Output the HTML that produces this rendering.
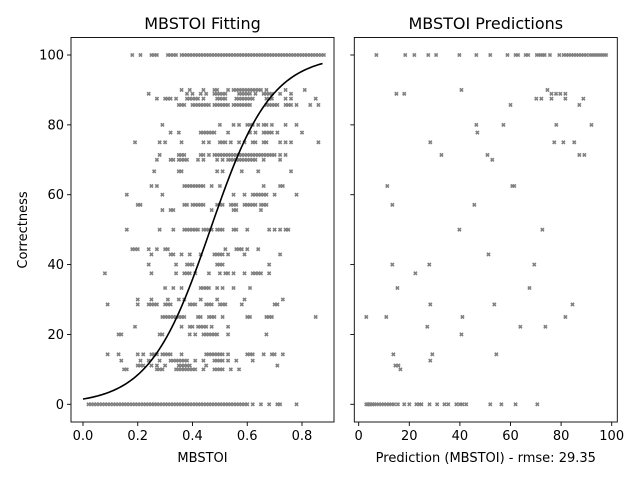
<!DOCTYPE html>
<html><head><meta charset="utf-8"><style>
html,body{margin:0;padding:0;background:#fff}
svg text{font-family:"DejaVu Sans","Liberation Sans",sans-serif;fill:#000}
</style></head><body>
<svg id="chart" width="640" height="480" viewBox="0 0 640 480" xmlns="http://www.w3.org/2000/svg">
<rect width="640" height="480" fill="#fff"/>
<g id="left"></g>
<g id="right"></g>
</svg>
<script>
const leftRowY = [100,90,88.9,87.5,85.7,80,77.8,75,71.4,70,66.7,62.5,60,57.1,55.6,50,44.4,42.9,40,37.5,33.3,30,28.6,25,22.2,20,14.3,12.5,11.1,10,0];
const leftRowX = [
[0.18,0.21,0.25,0.26,0.27,0.31,0.32,0.33,0.34,0.36,0.37,0.38,0.39,0.40,0.41,0.42,0.43,0.44,0.45,0.46,0.47,0.48,0.49,0.50,0.51,0.52,0.53,0.54,0.55,0.56,0.57,0.58,0.59,0.60,0.61,0.62,0.63,0.64,0.65,0.66,0.67,0.68,0.69,0.70,0.71,0.72,0.73,0.74,0.75,0.76,0.77,0.78,0.79,0.80,0.81,0.82,0.83,0.84,0.85,0.86,0.87,0.88],
[0.36,0.39,0.44,0.48,0.49,0.53,0.55,0.56,0.57,0.58,0.59,0.60,0.61,0.62,0.63,0.64,0.65,0.67,0.74,0.81],
[0.24,0.38,0.40,0.43,0.45,0.48,0.49,0.50,0.51,0.52,0.57,0.58,0.59,0.60,0.61,0.63,0.66,0.67,0.68,0.69,0.72,0.76],
[0.27,0.30,0.31,0.32,0.34,0.38,0.39,0.40,0.41,0.42,0.44,0.49,0.50,0.51,0.52,0.56,0.57,0.58,0.59,0.60,0.61,0.62,0.67,0.68,0.69,0.74,0.76,0.85],
[0.35,0.36,0.37,0.40,0.41,0.42,0.43,0.44,0.45,0.46,0.48,0.49,0.50,0.51,0.52,0.53,0.55,0.56,0.57,0.58,0.59,0.60,0.61,0.67,0.68,0.69,0.70,0.71,0.74,0.75,0.76,0.78,0.83,0.86],
[0.29,0.50,0.55,0.57,0.60,0.61,0.62,0.64,0.66,0.67,0.69,0.74,0.78],
[0.32,0.35,0.43,0.44,0.45,0.46,0.47,0.48,0.53,0.61,0.63,0.66,0.67,0.68,0.69,0.71,0.80],
[0.19,0.28,0.30,0.36,0.44,0.46,0.50,0.51,0.52,0.54,0.57,0.59,0.62,0.63,0.66,0.67,0.72,0.74,0.76,0.86],
[0.28,0.35,0.36,0.37,0.43,0.44,0.46,0.48,0.49,0.50,0.51,0.52,0.53,0.54,0.55,0.56,0.57,0.58,0.59,0.60,0.61,0.62,0.63,0.64,0.65,0.66,0.67,0.68,0.69,0.70,0.72,0.74],
[0.27,0.32,0.33,0.35,0.36,0.37,0.38,0.42,0.44,0.49,0.51,0.53,0.54,0.55,0.56,0.57,0.58,0.59,0.60,0.61,0.62,0.63,0.66,0.72],
[0.26,0.35,0.36,0.49,0.51,0.58,0.64,0.76],
[0.25,0.27,0.37,0.38,0.39,0.40,0.41,0.42,0.43,0.44,0.47,0.50,0.66,0.72,0.73],
[0.16,0.29,0.55,0.59,0.62,0.63,0.64,0.65,0.66,0.67,0.70,0.78],
[0.20,0.21,0.37,0.38,0.40,0.41,0.42,0.43,0.44,0.49,0.50,0.51,0.54,0.55,0.56,0.59,0.60,0.61,0.62,0.63,0.65,0.66,0.67],
[0.29,0.32,0.33,0.47,0.55,0.56,0.65],
[0.16,0.28,0.33,0.37,0.38,0.39,0.40,0.41,0.42,0.44,0.45,0.46,0.47,0.49,0.50,0.51,0.55,0.56,0.60,0.68,0.70,0.72,0.74,0.75],
[0.18,0.19,0.20,0.24,0.27,0.30,0.31,0.52,0.56,0.57,0.58,0.60,0.64],
[0.25,0.32,0.33,0.36,0.39,0.43,0.48,0.49,0.50,0.51,0.53,0.59,0.72],
[0.24,0.34,0.38,0.39,0.40,0.49,0.50,0.51,0.68],
[0.08,0.25,0.34,0.37,0.38,0.39,0.41,0.46,0.50,0.52,0.53,0.55,0.59,0.62,0.63,0.64,0.65,0.68],
[0.30,0.33,0.36,0.43,0.44,0.45,0.46,0.49,0.51,0.55,0.61],
[0.20,0.25,0.31,0.35,0.37,0.43,0.49,0.59,0.73],
[0.09,0.20,0.24,0.25,0.26,0.27,0.30,0.31,0.32,0.39,0.40,0.41,0.45,0.46,0.47,0.50,0.51,0.52,0.58,0.70,0.71],
[0.29,0.30,0.31,0.32,0.33,0.34,0.35,0.36,0.37,0.42,0.43,0.46,0.47,0.48,0.51,0.60,0.61,0.67,0.68,0.69,0.85],
[0.19,0.36,0.39,0.40,0.42,0.43,0.44,0.45,0.47,0.53],
[0.13,0.14,0.28,0.29,0.39,0.41,0.44,0.45,0.46,0.47,0.48,0.49,0.53,0.67],
[0.09,0.13,0.20,0.22,0.25,0.26,0.27,0.29,0.30,0.31,0.32,0.36,0.45,0.46,0.47,0.48,0.49,0.50,0.51,0.53,0.60,0.61,0.62,0.66,0.69,0.70,0.73],
[0.14,0.21,0.24,0.28,0.32,0.33,0.34,0.35,0.36,0.37,0.38,0.41,0.44,0.48,0.49,0.50,0.51,0.53,0.56,0.62],
[0.20,0.21,0.22,0.25,0.27,0.30,0.35,0.36,0.37,0.38,0.39,0.45,0.71],
[0.15,0.16,0.27,0.28,0.29,0.34,0.35,0.36,0.37,0.38,0.39,0.40,0.41,0.44,0.48,0.49,0.50,0.51,0.54,0.57],
[0.02,0.03,0.04,0.05,0.06,0.07,0.08,0.09,0.10,0.11,0.12,0.13,0.14,0.15,0.16,0.17,0.18,0.19,0.20,0.21,0.22,0.23,0.24,0.25,0.26,0.27,0.28,0.29,0.30,0.31,0.32,0.33,0.34,0.35,0.36,0.37,0.38,0.39,0.40,0.41,0.42,0.43,0.44,0.45,0.46,0.47,0.48,0.49,0.50,0.51,0.52,0.53,0.54,0.55,0.56,0.57,0.58,0.59,0.60,0.62,0.65,0.68,0.71,0.72,0.78]
];
const rightRowY = [100,90,88.9,87.5,85.7,80,77.8,75,71.4,70,62.5,57.1,50,42.9,40,37.5,33.3,28.6,25,22.2,20,14.3,12.5,11.1,10,0];
const rightRowX = [
[7,18.4,22,27.5,30.6,39.8,46.5,52,58.8,62,63,66,67,70.4,71.2,72,72.8,73.5,75.6,79.3,81,82,83,84,85,86,87,88,89,90,91.4,92.2,93,93.8,94.6,95.4,96.2,97,97.8],
[40.6,74.6],
[14.9,18,76.2,78,79.7,81.7],
[70.2,72.2,76.2,81.7,88.8],
[60,87.2],
[46.5,57.2,78.1,92],
[46.9],
[28.3,77.3,80.9,85.2],
[32.7,50.9,87.2,89.2],
[52.8],
[11.3,60.7,61.5],
[13.3,45.7],
[39.8,72.6],
[51.3],
[13.3,27.9,69.4],
[22.4],
[15.3,67.5],
[28.3,53.6,84.5],
[3,10.9,41,81.7],
[27.1,63.9,73.8],
[40.6],
[13.7,29.1,54.4],
[28.3],
[14.5,15.7],
[16.5],
[3,3.6,4.2,4.8,5.5,6.2,7,8,9,10,11,12,13,14,15.5,18,20,22.8,24,24.8,28,31,33.9,35.4,38.6,40,41,42.5,52,56.4,62,70.6]
];
const leftXTicks = [0.0,0.2,0.4,0.6,0.8];
const leftXTickLabels = ["0.0","0.2","0.4","0.6","0.8"];
const yTicks = [0,20,40,60,80,100];
const rightXTicks = [0,20,40,60,80,100];
const fitX0 = 0.465, fitK = 9.0, fitXmax = 0.875;

const NS = "http://www.w3.org/2000/svg";
function mk(tag, attrs, parent){const e=document.createElementNS(NS,tag);for(const k in attrs)e.setAttribute(k,attrs[k]);parent.appendChild(e);return e;}
const L = document.getElementById('left'), R = document.getElementById('right');
const yTop = 37.5, yBot = 422;
const ys = v => 404.3 - v*3.493;
const lxs = v => 83 + v*273.75;
const rxs = v => 358.7 + v*2.53;

function marker(g, x, y){
  const m = mk('path',{d:`M${x-1.6},${y-1.6}L${x+1.6},${y+1.6}M${x-1.6},${y+1.6}L${x+1.6},${y-1.6}`,stroke:'#808080','stroke-width':1.6,fill:'none'},g);
  
  
}
function axesFrame(g, x0, x1, xt, xtLabels, xsf, showYLabels, xlabel, title, cx){
  const fr = mk('rect',{x:x0,y:yTop,width:x1-x0,height:yBot-yTop,fill:'none',stroke:'#000','stroke-width':0.9},g);
  
  
  xt.forEach((t,i)=>{
    const x = xsf(t);
    mk('line',{x1:x,x2:x,y1:yBot,y2:yBot+4,stroke:'#000','stroke-width':0.9},g);
    const tx = mk('text',{x:x,y:yBot+18,'text-anchor':'middle','font-size':13},g);
    tx.textContent = xtLabels[i];
    
    
  });
  yTicks.forEach(t=>{
    const y = ys(t);
    mk('line',{x1:x0-4,x2:x0,y1:y,y2:y,stroke:'#000','stroke-width':0.9},g);
    if(showYLabels){
      const tx = mk('text',{x:x0-7,y:y+4.5,'text-anchor':'end','font-size':13},g);
      tx.textContent = String(t);
      
      
    }
  });
  const xl = mk('text',{x:(x0+x1)/2,y:462,'text-anchor':'middle','font-size':13},g);
  xl.textContent = xlabel;
  
  
  const ti = mk('text',{x:cx,y:29,'text-anchor':'middle','font-size':16},g);
  ti.textContent = title;
  
  
}
axesFrame(L,71,334,leftXTicks,leftXTickLabels,lxs,true,'MBSTOI','MBSTOI Fitting',202.5);
axesFrame(R,354.3,617.3,rightXTicks,rightXTicks.map(String),rxs,false,'Prediction (MBSTOI) - rmse: 29.35','MBSTOI Predictions',485.8);
const yl = mk('text',{x:0,y:0,'text-anchor':'middle','font-size':13,transform:'translate(27,230) rotate(-90)'},L);
yl.textContent = 'Correctness';



leftRowY.forEach((yv,i)=>leftRowX[i].forEach(xv=>marker(L,lxs(xv),ys(yv))));
rightRowY.forEach((yv,i)=>rightRowX[i].forEach(xv=>marker(R,rxs(xv),ys(yv))));

let d='';
for(let i=0;i<=100;i++){const x=fitXmax*i/100;const v=100/(1+Math.exp(-fitK*(x-fitX0)));d+=(i?'L':'M')+lxs(x).toFixed(2)+','+ys(v).toFixed(2);}
const curve = mk('path',{d:d,stroke:'#000','stroke-width':1.6,fill:'none'},L);


</script>
</body></html>
